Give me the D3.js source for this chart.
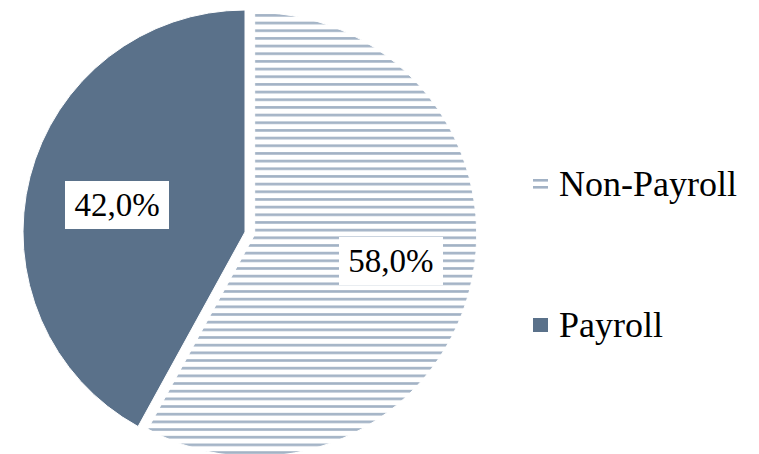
<!DOCTYPE html>
<meta charset="utf-8">
<script src="https://d3js.org/d3.v7.min.js"></script>
<style>
  body { margin: 0; background: #fff; }
  text { font-family: "Liberation Serif", serif; fill: #000; }
</style>
<div id="my_dataviz"></div>
<script>

// data
var categories = ["Non-Payroll", "Payroll"];
var shares = [58.0, 42.0];
var labels = ["58,0%", "42,0%"];

var width = 759, height = 454;
var cx = 245, cy = 232, radius = 222;
var explode = [10, 0];

var svg = d3.select("#my_dataviz")
  .append("svg")
    .attr("width", width)
    .attr("height", height);

// striped pattern for Non-Payroll
var defs = svg.append("defs");
var pat = defs.append("pattern")
    .attr("id", "stripes")
    .attr("patternUnits", "userSpaceOnUse")
    .attr("width", 8)
    .attr("height", 7.67);
pat.append("rect")
    .attr("width", 8).attr("height", 7.67).attr("fill", "#fff");
pat.append("rect")
    .attr("y", 2)
    .attr("width", 8).attr("height", 2.6).attr("fill", "#a2b2c5");

var fills = ["url(#stripes)", "#5a718a"];

var pie = d3.pie().sort(null).value(function(d) { return d; });
var arcs = pie(shares);
var arc = d3.arc().innerRadius(0).outerRadius(radius);

var g = svg.append("g")
    .attr("transform", "translate(" + cx + "," + cy + ")");

var slices = g.selectAll("g.slice")
  .data(arcs)
  .enter()
  .append("g")
    .attr("class", "slice")
    .attr("transform", function(d, i) {
      var a = (d.startAngle + d.endAngle) / 2;
      return "translate(" + (Math.sin(a) * explode[i]) + "," + (-Math.cos(a) * explode[i]) + ")";
    });

slices.append("path")
    .attr("d", arc)
    .attr("fill", function(d, i) { return fills[i]; })
    .attr("stroke", "#fff")
    .attr("stroke-width", 1);

// data labels with white boxes
var labelPos = [[391, 261], [117, 205]];
slices.each(function(d, i) {
  var s = d3.select(this);
  var lx = labelPos[i][0] - cx, ly = labelPos[i][1] - cy;
  var a = (d.startAngle + d.endAngle) / 2;
  lx -= Math.sin(a) * explode[i];
  ly += Math.cos(a) * explode[i];
  s.append("rect")
      .attr("x", lx - 52)
      .attr("y", ly - 24)
      .attr("width", 104)
      .attr("height", 48)
      .attr("fill", "#fff");
  s.append("text")
      .attr("x", lx)
      .attr("y", ly + 11)
      .attr("text-anchor", "middle")
      .style("font-size", "33px")
      .text(labels[i]);
});

// legend
var legendY = [184, 325];
var legend = svg.append("g");
categories.forEach(function(c, i) {
  var y = legendY[i];
  if (i === 0) {
    legend.append("rect").attr("x", 533).attr("y", y - 5).attr("width", 15).attr("height", 2.6).attr("fill", "#a2b2c5");
    legend.append("rect").attr("x", 533).attr("y", y + 2).attr("width", 15).attr("height", 2.6).attr("fill", "#a2b2c5");
  } else {
    legend.append("rect").attr("x", 533).attr("y", y - 7).attr("width", 15).attr("height", 14).attr("fill", fills[1]);
  }
  legend.append("text")
      .attr("x", 559)
      .attr("y", y + 12)
      .style("font-size", "36px")
      .text(c);
});

</script>
